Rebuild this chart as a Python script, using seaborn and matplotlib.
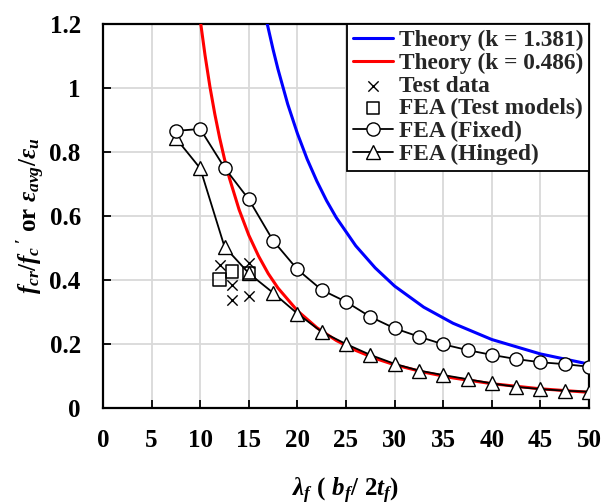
import numpy as np
import pandas as pd
import matplotlib
matplotlib.use("Agg")
import matplotlib.pyplot as plt
import seaborn as sns

# ---- data ----
theory_hi_x = [16.9, 17.5, 18, 19, 20, 21, 22, 23, 24, 26, 28, 30, 33, 36, 40, 45, 50]
theory_hi_y = [1.200, 1.120, 1.059, 0.950, 0.858, 0.778, 0.709, 0.648, 0.595, 0.507, 0.438,
               0.381, 0.315, 0.265, 0.214, 0.169, 0.137]
theory_lo_x = [10.06, 10.5, 11, 11.5, 12, 12.5, 13, 14, 15, 16, 17, 18, 20, 22, 24, 26, 28,
               30, 33, 36, 40, 45, 50]
theory_lo_y = [1.200, 1.102, 1.004, 0.919, 0.844, 0.778, 0.719, 0.620, 0.540, 0.475, 0.420,
               0.375, 0.304, 0.251, 0.211, 0.180, 0.155, 0.135, 0.112, 0.094, 0.076, 0.060, 0.049]
test_x = [12.0, 15.0, 13.25, 13.25, 15.0]
test_y = [0.447, 0.452, 0.383, 0.339, 0.350]
fea_test_x = [12.0, 13.25, 15.0]
fea_test_y = [0.402, 0.426, 0.421]
fea_x = [7.5, 10, 12.5, 15, 17.5, 20, 22.5, 25, 27.5, 30, 32.5, 35, 37.5, 40, 42.5, 45, 47.5, 50]
fixed_y = [0.866, 0.872, 0.751, 0.652, 0.523, 0.433, 0.369, 0.332, 0.285, 0.249, 0.223, 0.199,
           0.181, 0.166, 0.153, 0.143, 0.137, 0.129]
hinged_y = [0.843, 0.749, 0.504, 0.421, 0.360, 0.295, 0.238, 0.200, 0.166, 0.138, 0.117, 0.103,
            0.090, 0.077, 0.066, 0.059, 0.054, 0.051]
x_ticks = [0, 5, 10, 15, 20, 25, 30, 35, 40, 45, 50]
y_ticks = [0, 0.2, 0.4, 0.6, 0.8, 1.0, 1.2]
y_tick_labels = ["0", "0.2", "0.4", "0.6", "0.8", "1", "1.2"]

sns.set_theme(style="whitegrid")
plt.rcParams["font.family"] = ["Liberation Serif", "DejaVu Serif"]
plt.rcParams["font.weight"] = "bold"
plt.rcParams["mathtext.fontset"] = "custom"
plt.rcParams["mathtext.it"] = "Liberation Serif:italic:bold"
plt.rcParams["mathtext.rm"] = "Liberation Serif:bold"
plt.rcParams["mathtext.bf"] = "Liberation Serif:bold"

fig = plt.figure(figsize=(6.04, 5.04), dpi=100)
ax = fig.add_axes([103 / 604, 1 - 408 / 504, 486 / 604, 384 / 504])

sns.lineplot(x=theory_hi_x, y=theory_hi_y, ax=ax, color="#0000ff", lw=2.2,
             label="Theory (k = 1.381)", zorder=3)
sns.lineplot(x=theory_lo_x, y=theory_lo_y, ax=ax, color="#ff0000", lw=2.2,
             label="Theory (k = 0.486)", zorder=3)
sns.scatterplot(x=test_x, y=test_y, ax=ax, marker="x", s=55, color="black",
                linewidth=1.0, label="Test data", zorder=6)
sns.scatterplot(x=fea_test_x, y=fea_test_y, ax=ax, marker="s", s=80, facecolor="none",
                edgecolor="black", linewidth=1.1, label="FEA (Test models)", zorder=6)
sns.lineplot(x=fea_x, y=fixed_y, ax=ax, color="black", lw=1.3, marker="o", markersize=9.5,
             markerfacecolor="white", markeredgecolor="black", markeredgewidth=1.0,
             label="FEA (Fixed)", zorder=5)
sns.lineplot(x=fea_x, y=hinged_y, ax=ax, color="black", lw=1.3, marker="^", markersize=9.5,
             markerfacecolor="white", markeredgecolor="black", markeredgewidth=1.0,
             label="FEA (Hinged)", zorder=4)

ax.set_xlim(0, 50)
ax.set_ylim(0, 1.2)
ax.set_xticks(x_ticks)
ax.set_yticks(y_ticks)
ax.set_yticklabels(y_tick_labels)
ax.grid(True, color="#d9d9d9", lw=1.3)
for s in ax.spines.values():
    s.set_color("black")
    s.set_linewidth(1.6)
ax.tick_params(axis="both", direction="in", length=6, width=1.3, colors="black",
               labelsize=18, bottom=True, left=True)
ax.tick_params(axis="x", pad=15)
ax.tick_params(axis="y", pad=16)
for lab in ax.get_xticklabels() + ax.get_yticklabels():
    lab.set_fontweight("bold")

ax.set_xlabel(r"$\lambda_f\ (\ b_f/\ 2t_f)$", fontsize=18, labelpad=17, color="black")
ax.set_ylabel(r"$f_{cr}/f_c\,'$ or $\varepsilon_{avg}/\varepsilon_u$", fontsize=18,
              labelpad=2, color="black", fontweight="bold")

leg = ax.legend(loc="upper right", borderaxespad=0, fontsize=16.8, frameon=True,
                fancybox=False, framealpha=1, edgecolor="black", handlelength=1.7,
                handletextpad=0.25, labelspacing=0.06, borderpad=0.25)
leg.get_frame().set_linewidth(1.3)
for t in leg.get_texts():
    t.set_fontweight("bold")

fig.savefig("out.png", dpi=100)
